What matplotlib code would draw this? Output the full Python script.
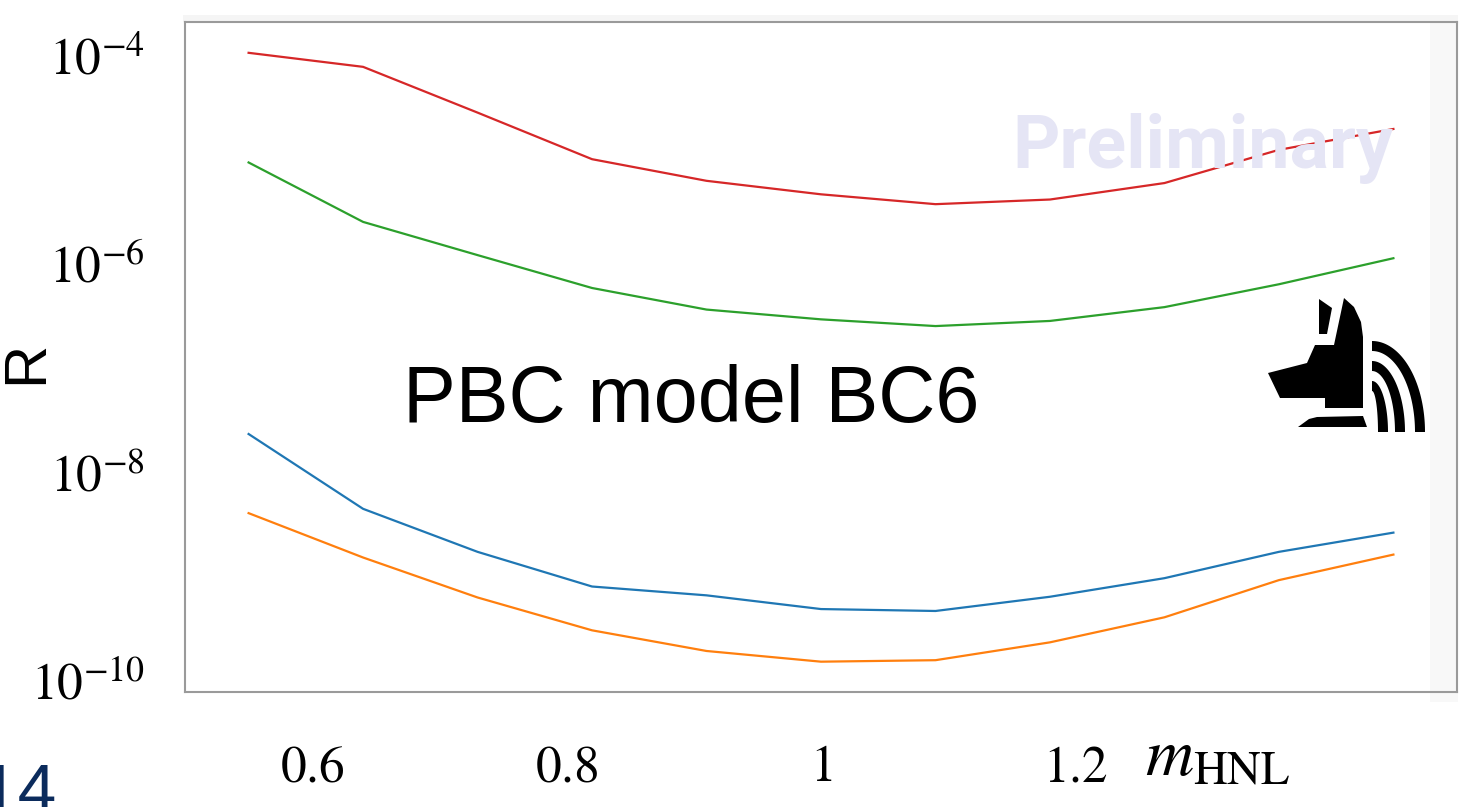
import matplotlib
matplotlib.use("Agg")
import matplotlib.pyplot as plt
import numpy as np
from matplotlib.patches import Polygon, Rectangle
from matplotlib.ticker import NullLocator

plt.rcParams['mathtext.fontset'] = 'stix'

# HNL mass grid (GeV) and ratio R for the four curves
m_hnl = [0.55, 0.64, 0.73, 0.82, 0.91, 1.00, 1.09, 1.18, 1.27, 1.36, 1.45]
r_blue = [2.3e-8, 4.4e-9, 1.7e-9, 7.9e-10, 6.5e-10, 4.8e-10, 4.6e-10, 6.3e-10, 9.5e-10, 1.7e-9, 2.6e-9]
r_orange = [4.0e-9, 1.5e-9, 6.2e-10, 3.0e-10, 1.9e-10, 1.5e-10, 1.55e-10, 2.3e-10, 4.0e-10, 9.1e-10, 1.6e-9]
r_green = [9.3e-6, 2.5e-6, 1.2e-6, 5.8e-7, 3.6e-7, 2.9e-7, 2.5e-7, 2.8e-7, 3.8e-7, 6.3e-7, 1.12e-6]
r_red = [1.05e-4, 7.7e-5, 2.8e-5, 1.0e-5, 6.2e-6, 4.6e-6, 3.7e-6, 4.1e-6, 5.9e-6, 1.23e-5, 1.95e-5]

x_ticks = [0.6, 0.8, 1.0, 1.2]
x_ticklabels = [r'$0.6$', r'$0.8$', r'$1$', r'$1.2$']
y_ticks = [1e-4, 1e-6, 1e-8, 1e-10]
y_ticklabels = [r'$10^{-4}$', r'$10^{-6}$', r'$10^{-8}$', r'$10^{-10}$']

W, H = 1459, 807
fig = plt.figure(figsize=(W / 100, H / 100), dpi=100)

# background layer: faint slide shadows around the frame
bg = fig.add_axes([0, 0, 1, 1], zorder=0)
bg.set_xlim(0, W)
bg.set_ylim(H, 0)
bg.axis('off')
bg.add_patch(Rectangle((1430, 16), 28, 686, color='#f8f8f8', lw=0))
bg.add_patch(Rectangle((183, 15), 1275, 7, color='#f5f5f5', lw=0))

ax = fig.add_axes([185 / W, (H - 692) / H, (1457 - 185) / W, (692 - 22) / H], zorder=1)
ax.patch.set_alpha(0)

ax.semilogy(m_hnl, r_blue, color='#1f77b4', lw=1.6)
ax.semilogy(m_hnl, r_orange, color='#ff7f0e', lw=1.6)
ax.semilogy(m_hnl, r_green, color='#2ca02c', lw=1.6)
ax.semilogy(m_hnl, r_red, color='#d62728', lw=1.6)

ax.set_xlim(0.5, 1.5)
ax.set_ylim(10 ** -10.115, 10 ** -3.683)
ax.set_xticks(x_ticks, labels=x_ticklabels)
ax.set_yticks(y_ticks, labels=y_ticklabels)
ax.yaxis.set_minor_locator(NullLocator())
ax.xaxis.set_minor_locator(NullLocator())
ax.tick_params(length=0, labelsize=37)
ax.tick_params(axis='x', pad=36)
ax.tick_params(axis='y', pad=29)
for s in ax.spines.values():
    s.set_color('#9a9a9a')
    s.set_linewidth(1.5)

ax.set_ylabel('R', fontfamily='Liberation Sans', fontsize=43, va='center', ha='center')
ax.yaxis.set_label_coords(-0.1246, 0.492)
ax.set_xlabel(r'$m_{\rm HNL}$', fontsize=48, va='baseline')
ax.xaxis.set_label_coords(0.812, -0.124)

ax.text(0.171, 0.403, 'PBC model BC6', transform=ax.transAxes,
        fontfamily='Liberation Sans', fontsize=57, va='baseline', ha='left')

# foreground layer: watermark, page number and logo
fg = fig.add_axes([0, 0, 1, 1], zorder=2)
fg.set_xlim(0, W)
fg.set_ylim(H, 0)
fg.axis('off')
fg.patch.set_alpha(0)

fg.text(1012, 168, 'Preliminary', fontfamily='Roboto', fontweight='bold',
        fontsize=53, color='#e5e5f5', ha='left', va='baseline')
fg.text(57, 812, '14', fontfamily='Liberation Sans', fontsize=50,
        color='#0b2b5c', ha='right', va='baseline')

# jackal head
head = [(1344, 298), (1354, 307), (1361, 322), (1363, 337), (1363, 408),
        (1325, 408), (1325, 398), (1280, 398), (1268, 373), (1307, 363),
        (1315, 345), (1334, 345)]
ear = [(1319, 299), (1332, 308), (1327, 334), (1319, 334)]
collar = [(1298, 427), (1309, 419), (1317, 417), (1363, 416), (1367, 427)]
for shape in (head, ear, collar):
    fg.add_patch(Polygon(shape, closed=True, color='black', lw=0))

# three curved bands behind the head
cx, cy = 1372, 432
t = np.linspace(0, np.pi / 2, 60)
for a_out, b_out in [(53, 91), (33, 71), (16, 51)]:
    w = 10
    outer = np.column_stack([cx + a_out * np.sin(t), cy - b_out * np.cos(t)])
    inner = np.column_stack([cx + (a_out - w) * np.sin(t), cy - (b_out - w) * np.cos(t)])
    band = np.vstack([outer, inner[::-1]])
    fg.add_patch(Polygon(band, closed=True, color='black', lw=0))

fig.savefig('out.png', dpi=100)
